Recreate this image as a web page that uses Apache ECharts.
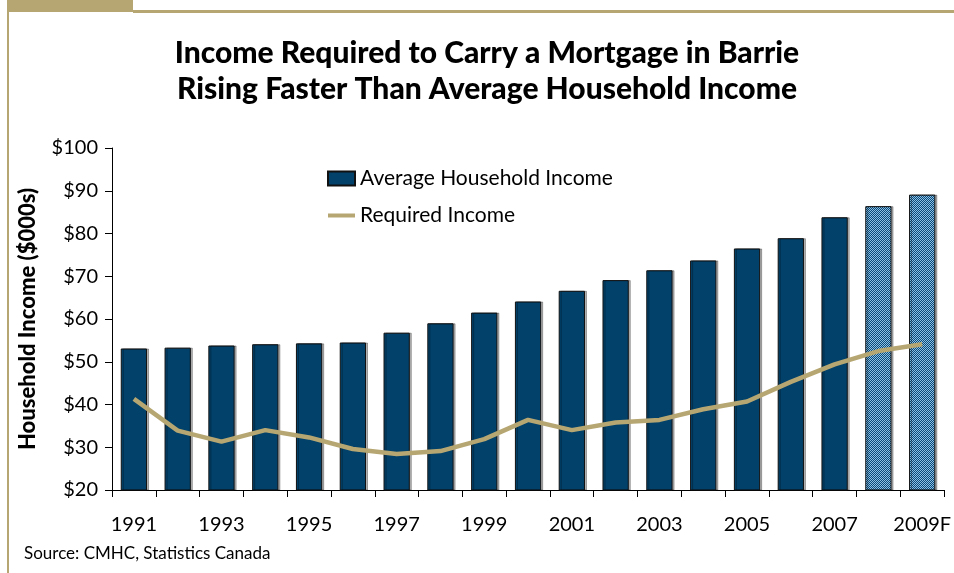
<!DOCTYPE html>
<html>
<head>
<meta charset="utf-8">
<script src="https://cdn.jsdelivr.net/npm/echarts@6/dist/echarts.min.js"></script>
<style>
  html, body { margin: 0; padding: 0; background: #fff; }
  #chart { width: 954px; height: 573px; }
</style>
</head>
<body>
<div id="chart"></div>
<script>
  // years along the x axis (2009 is a forecast)
  var years = ['1991', '1992', '1993', '1994', '1995', '1996', '1997', '1998', '1999', '2000',
               '2001', '2002', '2003', '2004', '2005', '2006', '2007', '2008', '2009F'];
  // $000s
  var avgIncome = [53.1, 53.3, 53.8, 54.1, 54.3, 54.5, 56.8, 59.0, 61.5, 64.1,
                   66.6, 69.1, 71.4, 73.7, 76.5, 78.9, 83.8, 86.4, 89.1];
  var requiredIncome = [41.3, 33.9, 31.3, 34.0, 32.3, 29.6, 28.4, 29.1, 31.9, 36.4,
                        34.0, 35.8, 36.4, 38.9, 40.7, 45.3, 49.4, 52.5, 54.1];
  // the last two bars are drawn hatched
  var forecastFrom = 17;

  var navy = '#02416A';
  var tan = '#B6A772';
  var font = 'Lato, "Open Sans", sans-serif';

  // small checker pattern for the hatched bars
  var pat = document.createElement('canvas');
  pat.width = 2; pat.height = 2;
  var pctx = pat.getContext('2d');
  pctx.fillStyle = '#0B4A78'; pctx.fillRect(0, 0, 2, 2);
  pctx.fillStyle = '#8CC0E4'; pctx.fillRect(0, 0, 1, 1); pctx.fillRect(1, 1, 1, 1);

  var barData = avgIncome.map(function (v, i) {
    if (i >= forecastFrom) {
      return { value: v, itemStyle: { color: { image: pat, repeat: 'repeat' } } };
    }
    return v;
  });

  var chart = echarts.init(document.getElementById('chart'));
  var option = {
    animation: false,
    title: {
      text: 'Income Required to Carry a Mortgage in Barrie\nRising Faster Than Average Household Income',
      left: 482,
      textAlign: 'center',
      top: 30,
      textStyle: { fontFamily: font, fontWeight: 900, fontSize: 30, lineHeight: 36, color: '#000' }
    },
    legend: {
      orient: 'vertical',
      left: 322,
      top: 163,
      itemGap: 16,
      itemWidth: 27,
      itemHeight: 14,
      textStyle: { fontFamily: font, fontSize: 21, color: '#000' },
      data: [
        { name: 'Average Household Income', icon: 'rect' },
        { name: 'Required Income', icon: 'path://M0,0L27,0L27,4L0,4Z', itemStyle: { color: tan } }
      ]
    },
    grid: { left: 112, right: 8, top: 148, bottom: 83, containLabel: false },
    xAxis: {
      type: 'category',
      data: years,
      axisLine: { lineStyle: { color: '#000', width: 1 } },
      axisTick: { show: true, interval: 0, length: 7, lineStyle: { color: '#000' } },
      axisLabel: { interval: 1, margin: 25, fontFamily: font, fontSize: 20, color: '#000' }
    },
    yAxis: {
      type: 'value',
      min: 20,
      max: 100,
      interval: 10,
      name: 'Household Income ($000s)',
      nameLocation: 'middle',
      nameGap: 73,
      nameTextStyle: { fontFamily: font, fontWeight: 900, fontSize: 22, color: '#000' },
      axisLine: { show: true, lineStyle: { color: '#000', width: 1 } },
      axisTick: { show: true, length: 7, lineStyle: { color: '#000' } },
      splitLine: { show: false },
      axisLabel: {
        margin: 14, fontFamily: font, fontSize: 20, color: '#000',
        formatter: function (v) { return '$' + v; }
      }
    },
    series: [
      {
        name: 'Average Household Income',
        type: 'bar',
        data: barData,
        barCategoryGap: '40%',
        itemStyle: {
          color: navy, borderColor: '#111', borderWidth: 1,
          shadowColor: 'rgba(0,0,0,0.3)', shadowOffsetX: 2, shadowBlur: 0
        }
      },
      {
        name: 'Required Income',
        type: 'line',
        data: requiredIncome,
        symbol: 'none',
        lineStyle: { color: tan, width: 4.5 },
        itemStyle: { color: tan }
      }
    ],
    graphic: [
      { type: 'rect', left: 7, top: 0, shape: { width: 126, height: 12 }, style: { fill: tan } },
      { type: 'rect', left: 133, top: 10, shape: { width: 821, height: 3 }, style: { fill: tan } },
      { type: 'rect', left: 7, top: 12, shape: { width: 2, height: 561 }, style: { fill: tan } },
      {
        type: 'text', left: 24, top: 545,
        style: { text: 'Source: CMHC, Statistics Canada', fontFamily: font, fontSize: 17, fill: '#000' }
      }
    ]
  };
  chart.setOption(option);
</script>
</body>
</html>
